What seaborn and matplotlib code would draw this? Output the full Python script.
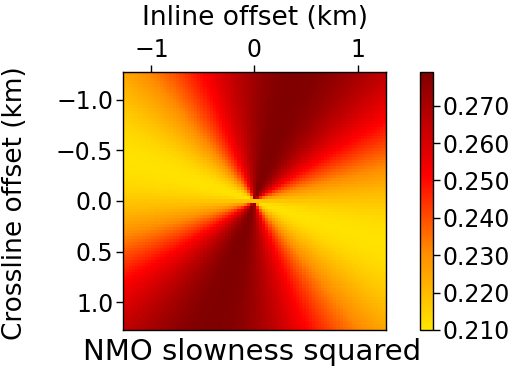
import numpy as np
import pandas as pd
import matplotlib
matplotlib.use("Agg")
import matplotlib.pyplot as plt
import seaborn as sns
from matplotlib.colors import LinearSegmentedColormap

# ---- data ----
inline_offsets = np.round(np.arange(-1.26, 1.2601, 0.03), 3)     # km
crossline_offsets = np.round(np.arange(-1.26, 1.2601, 0.03), 3)  # km
w_fast = 0.211          # min NMO slowness squared
w_slow = 0.279          # max NMO slowness squared
slow_azimuth_deg = -72  # azimuth of the slow direction (inline->crossline)
x_ticks = [-1, 0, 1]
y_ticks = [-1.0, -0.5, 0.0, 0.5, 1.0]
cbar_ticks = [0.210, 0.220, 0.230, 0.240, 0.250, 0.260, 0.270]
cbar_range = [0.210, 0.279]

# elliptical NMO field (depends on azimuth only)
X, Y = np.meshgrid(inline_offsets, crossline_offsets)
phi = np.arctan2(Y, X)
W = w_fast + (w_slow - w_fast) * np.cos(phi - np.deg2rad(slow_azimuth_deg)) ** 2
df = pd.DataFrame(W, index=crossline_offsets, columns=inline_offsets)

cmap = LinearSegmentedColormap.from_list(
    "nmo", [(0.0, (1.0, 0.90, 0.0)), (0.30, (1.0, 0.55, 0.0)),
            (0.60, (1.0, 0.0, 0.0)), (1.0, (0.50, 0.0, 0.0))])

sns.set_theme(style="ticks")
plt.rcParams['font.family'] = ['DejaVu Sans']
plt.rcParams['text.color'] = 'black'
plt.rcParams['xtick.color'] = 'black'
plt.rcParams['ytick.color'] = 'black'
plt.rcParams['axes.labelcolor'] = 'black'
FS = 17
LFS = 19

W_PX, H_PX = 527, 378
fig = plt.figure(figsize=(W_PX / 100, H_PX / 100), dpi=100)
ax_h = 330 - 72
ax_w = 386 - 123
ax = fig.add_axes([123 / W_PX, 1 - 330 / H_PX, ax_w / W_PX, ax_h / H_PX])
cax = fig.add_axes([420 / W_PX, 1 - 330 / H_PX, (433 - 420) / W_PX, ax_h / H_PX])

sns.heatmap(df, ax=ax, cbar_ax=cax, cmap=cmap, vmin=cbar_range[0], vmax=cbar_range[1],
            xticklabels=False, yticklabels=False)

dx = inline_offsets[1] - inline_offsets[0]
dy = crossline_offsets[1] - crossline_offsets[0]
xpos = [(v - inline_offsets[0]) / dx + 0.5 for v in x_ticks]
ypos = [(v - crossline_offsets[0]) / dy + 0.5 for v in y_ticks]

ax.xaxis.tick_top()
ax.xaxis.set_label_position("top")
ax.set_xticks(xpos)
ax.set_xticklabels([f"{v:d}".replace("-", "\u2212") for v in x_ticks], fontsize=FS)
ax.set_yticks(ypos)
ax.set_yticklabels([f"{v:.1f}".replace("-", "\u2212") for v in y_ticks], fontsize=FS, rotation=0)
ax.tick_params(axis="both", length=5, width=1, color="black", labelcolor="black", pad=2)
ax.set_xlabel("Inline offset (km)", fontsize=LFS, color="black")
ax.set_ylabel("Crossline offset (km)", fontsize=LFS, color="black")
ax.xaxis.set_label_coords(0.5 + (255 - 254.5) / ax_w, (330 - 25) / ax_h)
ax.yaxis.set_label_coords((28 - 123) / ax_w, (330 - 203) / ax_h)
for s in ax.spines.values():
    s.set_visible(True)
    s.set_color("black")
    s.set_linewidth(1)

cax.set_yticks(cbar_ticks)
cax.set_yticklabels([f"{v:.3f}" for v in cbar_ticks], fontsize=FS, color="black")
cax.tick_params(length=5, width=1, color="black", labelcolor="black", pad=2)
cax.set_ylim(cbar_range)
cb = ax.collections[0].colorbar
cb.outline.set_visible(True)
cb.outline.set_edgecolor("black")
cb.outline.set_linewidth(1)

fig.text(252 / W_PX, 1 - 360 / H_PX, "NMO slowness squared", fontsize=21,
         ha="center", va="baseline", color="black")

fig.savefig("out.png", dpi=100)
